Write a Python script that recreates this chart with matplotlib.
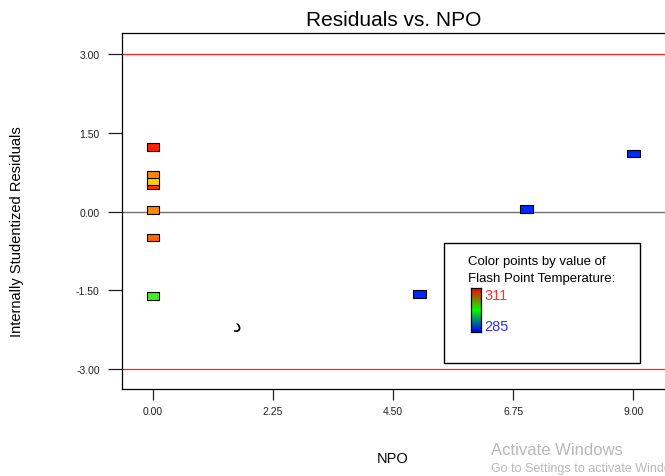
import matplotlib
matplotlib.use("Agg")
import numpy as np
import matplotlib.pyplot as plt
from matplotlib.colors import LinearSegmentedColormap
from matplotlib.patches import Rectangle

plt.rcParams['font.family'] = ['Liberation Sans', 'DejaVu Sans']

# run data: NPO level, residual, flash point temperature
npo = [0, 0, 0, 0, 0, 0, 0, 5, 7, 9]
residuals = [1.23, 0.50, 0.58, 0.70, 0.03, -0.50, -1.61, -1.57, 0.05, 1.11]
flash_temp = [311, 310, 301, 305, 305, 307, 296, 285, 285, 285]

x_ticks = [0.00, 2.25, 4.50, 6.75, 9.00]
y_ticks = [-3.00, -1.50, 0.00, 1.50, 3.00]
t_min, t_max = 285, 311

# point colouring (blue -> green -> yellow -> red) and legend bar (blue -> green -> red)
point_cmap = LinearSegmentedColormap.from_list(
    "pts", [(0.0, "#0028ff"), (0.45, "#40ff10"), (0.62, "#ffd000"),
            (0.78, "#ff8000"), (0.9, "#ff5000"), (1.0, "#ff2000")])
bar_cmap = LinearSegmentedColormap.from_list("bar", ["#0000ff", "#00ff00", "#ff0000"])

W, H = 665, 477
fig = plt.figure(figsize=(W / 100, H / 100), dpi=100)
ax = fig.add_axes([122 / W, 1 - 390 / H, (667 - 122) / W, (390 - 34) / H])

# flat rectangle marker
rect_marker = [(-1, -0.58), (1, -0.58), (1, 0.58), (-1, 0.58), (-1, -0.58)]
ax.scatter(npo, residuals, c=flash_temp, cmap=point_cmap, vmin=t_min, vmax=t_max,
           marker=rect_marker, s=85, edgecolors="black", linewidths=0.8, zorder=3)

ax.axhline(3.0, color="#ff2020", lw=0.9, zorder=1)
ax.axhline(-3.0, color="#ff2020", lw=0.9, zorder=1)
ax.axhline(0.0, color="#707070", lw=1.0, zorder=1)

ax.set_xlim(-0.58, 9.63)
ax.set_ylim(-3.38, 3.40)
ax.set_xticks(x_ticks)
ax.set_yticks(y_ticks)
ax.set_xticklabels([f"{v:.2f}" for v in x_ticks], fontsize=7.5)
ax.set_yticklabels([f"{v:.2f}" for v in y_ticks], fontsize=7.5)
ax.tick_params(axis="y", direction="out", length=10, width=0.9, pad=6, colors="#202020")
ax.tick_params(axis="x", direction="out", length=8, width=0.9, pad=4, colors="#202020")
for side in ("left", "bottom", "top"):
    ax.spines[side].set_linewidth(0.9)
ax.spines["right"].set_visible(False)

fig.text(394 / W, 1 - 21 / H, "Residuals vs. NPO", fontsize=15, ha="center", va="center")
fig.text(393 / W, 1 - 459 / H, "NPO", fontsize=10.5, ha="center", va="center")
fig.text(17 / W, 1 - 232 / H, "Internally Studentized Residuals", fontsize=10.5,
         rotation=90, ha="center", va="center")
fig.text(237 / W, 1 - 328 / H, "د", fontsize=14, ha="center", va="center")

# colour legend box
fig.patches.append(Rectangle((444 / W, 1 - 364 / H), (640 - 444) / W, (364 - 244) / H,
                             transform=fig.transFigure, fill=True, facecolor="white",
                             edgecolor="black", lw=1.0, zorder=5))
fig.text(468 / W, 1 - 262 / H, "Color points by value of", fontsize=9.5, va="center", zorder=6)
fig.text(468 / W, 1 - 279 / H, "Flash Point Temperature:", fontsize=9.5, va="center", zorder=6)
cax = fig.add_axes([471 / W, 1 - 333 / H, 10 / W, (333 - 289) / H], zorder=7)
cax.imshow(np.linspace(1, 0, 100).reshape(-1, 1), cmap=bar_cmap, aspect="auto")
cax.set_xticks([])
cax.set_yticks([])
for s in cax.spines.values():
    s.set_linewidth(0.9)
fig.text(484 / W, 1 - 296 / H, str(t_max), fontsize=10.5, color="#ff3030", va="center", zorder=6)
fig.text(484 / W, 1 - 327 / H, str(t_min), fontsize=10.5, color="#3030ff", va="center", zorder=6)

fig.text(491 / W, 1 - 451 / H, "Activate Windows", fontsize=12, color="#b8b8b8", va="center")
fig.text(491 / W, 1 - 469 / H, "Go to Settings to activate Windows.", fontsize=9, color="#b8b8b8",
         va="center")

fig.savefig("out.png", dpi=100)
